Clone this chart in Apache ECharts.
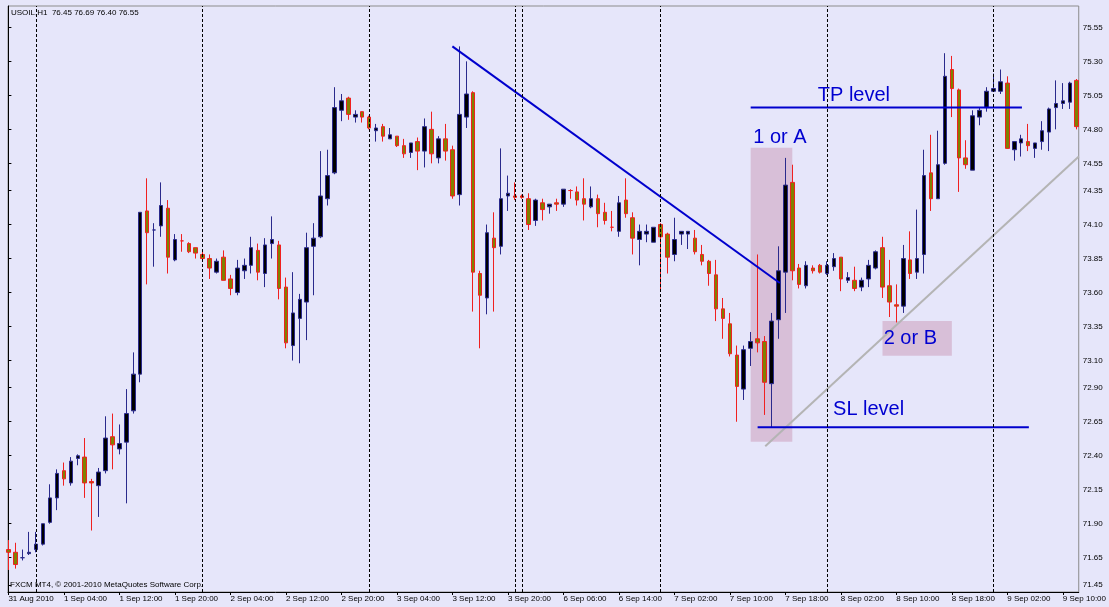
<!DOCTYPE html>
<html style="height: 100%; margin: 0; padding: 0;">
<head>
    <meta charset="utf-8">
    <title>USOIL H1</title>
    <script src="https://cdn.jsdelivr.net/npm/echarts@6/dist/echarts.min.js"></script>
    <style>
        body, html {
            height: 100%;
            margin: 0;
            padding: 0;
            overflow: hidden;
            background-color: #e6e6fa;
        }
        #main {
            height: 607px;
            width: 1109px;
        }
    </style>
</head>
<body>
<div id="main"></div>
<script type="text/javascript">
    // hourly bars, one row per bar: open, close, low, high
    var bars = [
        [71.71, 71.69, 71.56, 71.78], [71.69, 71.60, 71.57, 71.76], [71.65, 71.65, 71.63, 71.71], [71.68, 71.69, 71.67, 71.84],
        [71.71, 71.75, 71.69, 71.84], [71.75, 71.90, 71.74, 71.90], [71.91, 72.09, 71.90, 72.19], [72.09, 72.27, 72.00, 72.30],
        [72.29, 72.23, 72.18, 72.35], [72.20, 72.36, 72.18, 72.39], [72.38, 72.40, 72.33, 72.41], [72.39, 72.20, 72.09, 72.53],
        [72.21, 72.20, 71.85, 72.23], [72.18, 72.28, 71.95, 72.31], [72.29, 72.53, 72.27, 72.69], [72.54, 72.48, 72.30, 72.71],
        [72.45, 72.49, 72.41, 72.63], [72.50, 72.71, 72.05, 72.89], [72.73, 73.00, 72.71, 73.16], [73.00, 74.19, 72.94, 74.19],
        [74.20, 74.04, 73.66, 74.44], [74.06, 74.06, 73.79, 74.11], [74.09, 74.24, 74.01, 74.41], [74.22, 73.86, 73.74, 74.28],
        [73.84, 73.99, 73.83, 74.03], [73.98, 73.98, 73.90, 74.03], [73.96, 73.90, 73.89, 73.97], [73.93, 73.89, 73.85, 73.93],
        [73.88, 73.85, 73.84, 73.90], [73.85, 73.78, 73.70, 73.88], [73.75, 73.83, 73.74, 73.85], [73.86, 73.69, 73.69, 73.91],
        [73.70, 73.63, 73.58, 73.73], [73.60, 73.78, 73.58, 73.84], [73.76, 73.80, 73.70, 73.85], [73.80, 73.93, 73.74, 74.01],
        [73.91, 73.75, 73.69, 73.96], [73.74, 73.95, 73.64, 74.00], [73.96, 73.99, 73.85, 74.16], [73.95, 73.63, 73.55, 73.98],
        [73.64, 73.23, 73.19, 73.71], [73.21, 73.45, 73.10, 73.75], [73.41, 73.55, 73.08, 73.59], [73.53, 73.93, 73.25, 74.04],
        [73.94, 74.00, 73.58, 74.11], [74.01, 74.31, 74.00, 74.64], [74.29, 74.46, 74.24, 74.65], [74.48, 74.96, 74.47, 75.11],
        [74.94, 75.01, 74.86, 75.06], [75.03, 74.91, 74.87, 75.04], [74.89, 74.91, 74.85, 74.94], [74.93, 74.89, 74.85, 74.93],
        [74.89, 74.81, 74.80, 74.90], [74.79, 74.81, 74.71, 74.84], [74.82, 74.75, 74.71, 74.84], [74.73, 74.76, 74.73, 74.81],
        [74.75, 74.68, 74.67, 74.75], [74.68, 74.62, 74.59, 74.73], [74.63, 74.70, 74.59, 74.70], [74.71, 74.64, 74.50, 74.74],
        [74.64, 74.82, 74.52, 74.88], [74.80, 74.62, 74.55, 74.93], [74.59, 74.73, 74.55, 74.75], [74.73, 74.64, 74.57, 74.84],
        [74.65, 74.31, 74.29, 74.68], [74.32, 74.91, 74.24, 75.41], [74.89, 75.06, 74.81, 75.30], [75.07, 73.75, 73.46, 75.08],
        [73.74, 73.58, 73.19, 73.76], [73.56, 74.04, 73.44, 74.10], [74.00, 73.93, 73.46, 74.19], [73.94, 74.29, 73.88, 74.66],
        [74.31, 74.33, 74.20, 74.46], [74.31, 74.30, 74.28, 74.41], [74.31, 74.30, 74.29, 74.32], [74.29, 74.10, 74.06, 74.33],
        [74.13, 74.28, 74.09, 74.29], [74.26, 74.21, 74.13, 74.29], [74.23, 74.25, 74.18, 74.25], [74.26, 74.25, 74.20, 74.29],
        [74.25, 74.36, 74.23, 74.36], [74.35, 74.35, 74.29, 74.36], [74.34, 74.28, 74.24, 74.38], [74.29, 74.25, 74.13, 74.44],
        [74.23, 74.29, 74.22, 74.38], [74.29, 74.18, 74.08, 74.32], [74.19, 74.13, 74.10, 74.26], [74.08, 74.08, 74.05, 74.20],
        [74.05, 74.26, 74.01, 74.31], [74.28, 74.18, 74.15, 74.44], [74.15, 74.00, 73.88, 74.19], [73.99, 74.05, 73.80, 74.10],
        [74.03, 74.05, 73.97, 74.10], [73.97, 74.08, 73.97, 74.08], [74.10, 74.01, 73.62, 74.11], [74.03, 73.86, 73.74, 74.04],
        [73.88, 73.99, 73.83, 74.15], [74.03, 74.05, 73.95, 74.05], [74.03, 74.05, 73.92, 74.05], [74.00, 73.90, 73.88, 74.06],
        [73.88, 73.83, 73.80, 73.95], [73.83, 73.74, 73.65, 73.84], [73.73, 73.48, 73.39, 73.84], [73.48, 73.41, 73.26, 73.56],
        [73.37, 73.15, 73.13, 73.45], [73.14, 72.91, 72.65, 73.21], [72.89, 73.18, 72.81, 73.21], [73.19, 73.24, 73.06, 73.31],
        [73.26, 73.23, 73.16, 73.88], [73.24, 72.94, 72.70, 73.28], [72.93, 73.39, 72.61, 73.45], [73.40, 73.76, 73.26, 73.94],
        [73.75, 74.39, 73.45, 74.59], [74.41, 73.76, 73.69, 74.54], [73.78, 73.66, 73.63, 73.81], [73.65, 73.80, 73.63, 73.83],
        [73.78, 73.76, 73.74, 73.80], [73.80, 73.75, 73.74, 73.81], [73.74, 73.80, 73.73, 73.83], [73.79, 73.85, 73.76, 73.89],
        [73.86, 73.70, 73.61, 73.86], [73.69, 73.71, 73.67, 73.75], [73.69, 73.63, 73.61, 73.79], [73.64, 73.69, 73.61, 73.71],
        [73.70, 73.80, 73.64, 73.84], [73.78, 73.90, 73.77, 73.91], [73.93, 73.64, 73.56, 74.01], [73.65, 73.53, 73.42, 73.84],
        [73.51, 73.50, 73.38, 73.66], [73.50, 73.85, 73.45, 73.95], [73.84, 73.74, 73.70, 74.05], [73.75, 73.85, 73.70, 74.21],
        [73.88, 74.46, 73.74, 74.65], [74.48, 74.29, 74.20, 74.76], [74.29, 74.54, 74.29, 74.79], [74.55, 75.19, 74.54, 75.36],
        [75.24, 75.10, 74.89, 75.34], [75.09, 74.59, 74.34, 75.10], [74.59, 74.54, 74.51, 74.72], [74.50, 74.90, 74.50, 74.94],
        [74.89, 74.94, 74.83, 74.96], [74.96, 75.08, 74.93, 75.11], [75.08, 75.10, 75.08, 75.21], [75.08, 75.15, 75.06, 75.24],
        [75.14, 74.66, 74.66, 75.19], [74.65, 74.71, 74.57, 74.71], [74.70, 74.73, 74.60, 74.76], [74.71, 74.68, 74.64, 74.84],
        [74.66, 74.70, 74.59, 74.70], [74.71, 74.79, 74.65, 74.86], [74.78, 74.95, 74.64, 74.96], [74.96, 74.99, 74.80, 75.16],
        [74.99, 75.01, 74.95, 75.14], [75.00, 75.14, 74.95, 75.15], [75.16, 74.82, 74.80, 75.17]
    ];

    // time labels, one every 8 bars
    var timeLabels = ['31 Aug 2010', '1 Sep 04:00', '1 Sep 12:00', '1 Sep 20:00', '2 Sep 04:00', '2 Sep 12:00',
        '2 Sep 20:00', '3 Sep 04:00', '3 Sep 12:00', '3 Sep 20:00', '6 Sep 06:00', '6 Sep 14:00', '7 Sep 02:00',
        '7 Sep 10:00', '7 Sep 18:00', '8 Sep 02:00', '8 Sep 10:00', '8 Sep 18:00', '9 Sep 02:00', '9 Sep 10:00'];
    var labelStep = 8;

    // day separators (bar index)
    var separators = [4, 28, 52, 73, 74, 94, 118, 142];

    // price scale labels
    var priceTicks = [71.45, 71.65, 71.90, 72.15, 72.40, 72.65, 72.90, 73.10, 73.35, 73.60,
        73.85, 74.10, 74.35, 74.55, 74.80, 75.05, 75.30, 75.55];

    // drawn objects: [bar index, price]
    var downTrend = [[64.0, 75.41], [111.2, 73.67]];
    var upTrend = [[109.1, 72.47], [154.3, 74.60]];
    var tpLine = [[107.0, 74.96], [146.1, 74.96]];
    var slLine = [[108.0, 72.61], [147.1, 72.61]];
    var zones = [[107.0, 74.665, 113.0, 72.503], [126.0, 73.39, 136.0, 73.135]];
    var notes = [[107.3, 74.74, '1 or A'], [116.6, 75.05, 'TP level'], [118.8, 72.74, 'SL level'], [126.1, 73.26, '2 or B']];

    var candleData = bars.map(function (b, i) {
        return [i, b[0], b[1], b[2], b[3]];
    });
    var tickIdx = timeLabels.map(function (t, i) { return i * labelStep; });

    var font = 'Liberation Sans';
    var myChart = echarts.init(document.getElementById('main'));

    var option = {
        backgroundColor: '#e6e6fa',
        animation: false,
        title: [
            {
                text: 'USOIL,H1  76.45 76.69 76.40 76.55',
                left: 11, top: 9, padding: 0,
                textStyle: {fontFamily: font, fontSize: 8, fontWeight: 'normal', color: '#000'}
            },
            {
                text: 'FXCM MT4, \u00a9 2001-2010 MetaQuotes Software Corp.',
                left: 10, top: 581, padding: 0,
                textStyle: {fontFamily: font, fontSize: 8, fontWeight: 'normal', color: '#000'}
            }
        ],
        grid: {
            left: 8, right: 28, top: 6, bottom: 15,
            show: true,
            borderColor: '#8c8c8c',
            borderWidth: 1
        },
        xAxis: {
            type: 'value',
            min: -0.058,
            max: 154.29,
            axisLine: {lineStyle: {color: '#000', width: 1}},
            axisTick: {show: true, length: 3, customValues: tickIdx, lineStyle: {color: '#000'}},
            axisLabel: {
                customValues: tickIdx,
                align: 'left',
                margin: 3,
                fontFamily: font,
                fontSize: 8,
                color: '#000',
                formatter: function (v) {
                    return timeLabels[Math.round(v / labelStep)];
                }
            },
            splitLine: {show: false}
        },
        yAxis: {
            type: 'value',
            position: 'right',
            min: 71.398,
            max: 75.707,
            scale: true,
            axisLine: {show: true, lineStyle: {color: '#000', width: 1}},
            axisTick: {show: true, length: 3, customValues: priceTicks, lineStyle: {color: '#000'}},
            axisLabel: {
                customValues: priceTicks,
                margin: 4,
                fontFamily: font,
                fontSize: 8,
                color: '#000',
                formatter: function (v) { return v.toFixed(2); }
            },
            splitLine: {show: false}
        },
        series: [
            {
                // zones and day separators
                type: 'line',
                data: upTrend,
                symbol: 'none',
                z: 1,
                silent: true,
                lineStyle: {color: '#b4b4b4', width: 2},
                markArea: {
                    silent: true,
                    itemStyle: {color: '#d8bfd8', opacity: 1},
                    data: zones.map(function (z) {
                        return [{coord: [z[0], z[1]]}, {coord: [z[2], z[3]]}];
                    })
                },
                markLine: {
                    silent: true,
                    symbol: 'none',
                    label: {show: false},
                    lineStyle: {color: '#000', type: [3, 2], width: 1},
                    data: separators.map(function (s) { return {xAxis: s}; })
                }
            },
            {
                type: 'candlestick',
                data: candleData,
                encode: {x: 0, y: [1, 2, 3, 4]},
                barWidth: 4,
                z: 3,
                itemStyle: {
                    color: '#000000',
                    color0: '#808000',
                    borderColor: '#2a2a8c',
                    borderColor0: '#f02020',
                    borderWidth: 1
                }
            },
            {
                type: 'line',
                data: downTrend,
                symbol: 'none',
                z: 4,
                lineStyle: {color: '#0000cd', width: 2}
            },
            {
                type: 'line',
                data: tpLine,
                symbol: 'none',
                z: 4,
                lineStyle: {color: '#0000cd', width: 2}
            },
            {
                type: 'line',
                data: slLine,
                symbol: 'none',
                z: 4,
                lineStyle: {color: '#0000cd', width: 2}
            },
            {
                type: 'scatter',
                data: notes,
                symbolSize: 1,
                z: 5,
                itemStyle: {color: 'rgba(0,0,0,0)'},
                label: {
                    show: true,
                    position: 'right',
                    distance: 0,
                    opacity: 1,
                    fontFamily: font,
                    fontSize: 20,
                    color: '#0000d0',
                    formatter: function (p) { return p.value[2]; }
                }
            }
        ]
    };

    myChart.setOption(option);
</script>
</body>
</html>
